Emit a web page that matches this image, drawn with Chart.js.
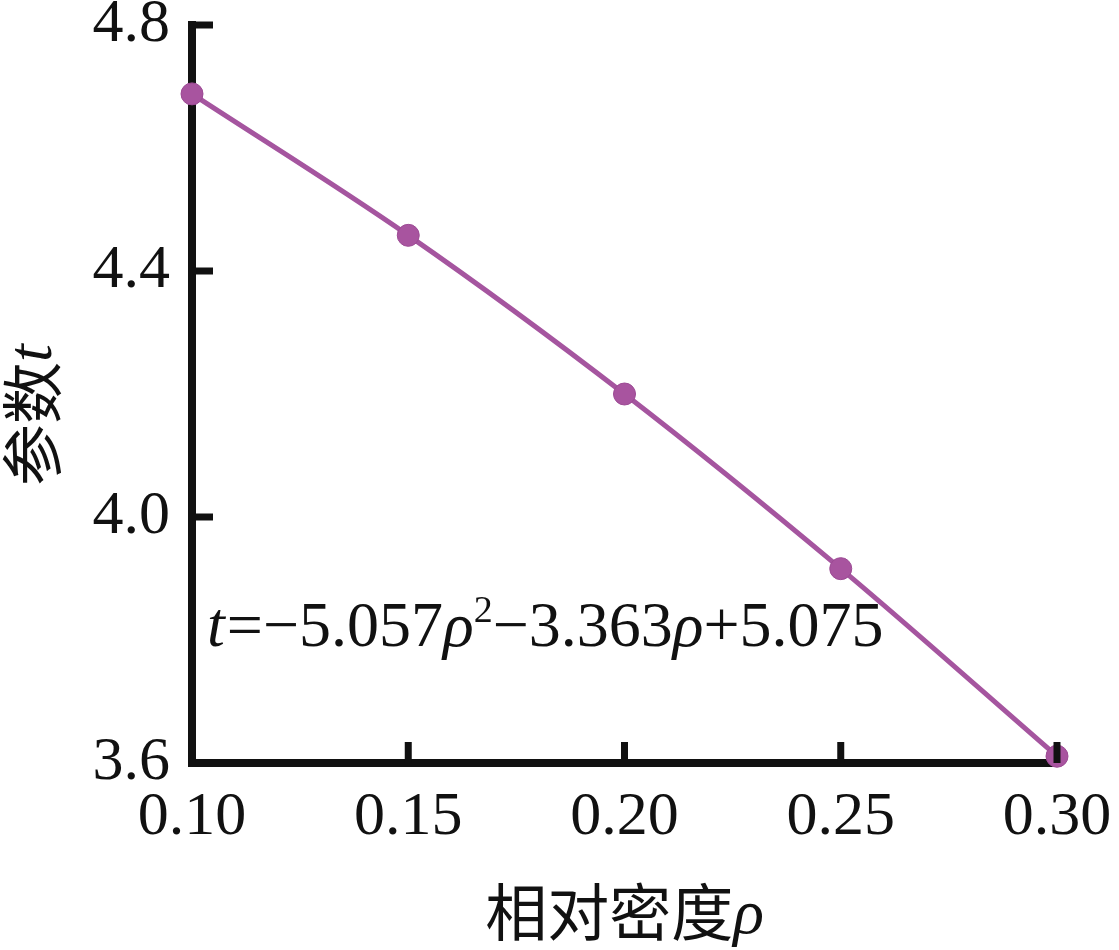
<!DOCTYPE html>
<html>
<head>
<meta charset="utf-8">
<script src="https://cdn.jsdelivr.net/npm/chart.js@4"></script>
<style>
  html, body { margin: 0; padding: 0; background: #fff; }
  #wrap { width: 1119px; height: 950px; }
</style>
</head>
<body>
<div id="wrap"><canvas id="chart" width="1119" height="950"></canvas></div>
<script>
// Data
const density = [0.10, 0.15, 0.20, 0.25, 0.30];
const paramT = [4.688, 4.458, 4.200, 3.916, 3.611];
const xTicks = [0.10, 0.15, 0.20, 0.25, 0.30];
const yTicks = [3.6, 4.0, 4.4, 4.8];

const SERIF = '"Liberation Serif", "Times New Roman", serif';
const CJK = '"Noto Sans CJK SC", "Liberation Serif", serif';
const LINE_COLOR = '#a5559f';

// Draw a run of text pieces with different fonts one after another
function drawRuns(ctx, runs, x, y) {
    let cx = x;
    runs.forEach(r => {
        ctx.font = r.font;
        ctx.fillText(r.text, cx, y + (r.dy || 0));
        cx += ctx.measureText(r.text).width + (r.gap || 0);
    });
    return cx - x;
}

function runsWidth(ctx, runs) {
    let w = 0;
    runs.forEach(r => {
        ctx.font = r.font;
        w += ctx.measureText(r.text).width + (r.gap || 0);
    });
    return w;
}

// keep the plot box where the figure has it
function noScalePadding(s) {
    s.paddingTop = 0;
    s.paddingBottom = 0;
    s.paddingLeft = 0;
    s.paddingRight = 0;
}

// Inner tick marks, axis titles and the fit equation
const decorPlugin = {
    id: 'decor',
    afterDraw(chart) {
        const ctx = chart.ctx;
        const xs = chart.scales.x, ys = chart.scales.y;
        const area = chart.chartArea;
        ctx.save();
        ctx.strokeStyle = '#111';
        ctx.lineWidth = 7;
        ctx.lineCap = 'butt';
        yTicks.forEach(v => {
            const py = ys.getPixelForValue(v);
            ctx.beginPath();
            ctx.moveTo(area.left, py);
            ctx.lineTo(area.left + 21, py);
            ctx.stroke();
        });
        xTicks.forEach(v => {
            const px = xs.getPixelForValue(v);
            ctx.beginPath();
            ctx.moveTo(px, area.bottom);
            ctx.lineTo(px, area.bottom - 21);
            ctx.stroke();
        });

        ctx.fillStyle = '#111';
        ctx.textBaseline = 'middle';
        ctx.textAlign = 'left';

        // x title
        const xRuns = [
            { text: '相对密度', font: '62px ' + CJK },
            { text: 'ρ', font: 'italic 64px ' + SERIF, dy: 4 }
        ];
        const xw = runsWidth(ctx, xRuns);
        drawRuns(ctx, xRuns, (area.left + area.right) / 2 - xw / 2, 912);

        // y title (rotated)
        const yRuns = [
            { text: '参数', font: '62px ' + CJK },
            { text: 't', font: 'italic 64px ' + SERIF, dy: 2 }
        ];
        const yw = runsWidth(ctx, yRuns);
        ctx.save();
        ctx.translate(32, 415);
        ctx.rotate(-Math.PI / 2);
        drawRuns(ctx, yRuns, -yw / 2, 0);
        ctx.restore();

        // fit equation
        ctx.textBaseline = 'alphabetic';
        const f = '64px ' + SERIF, fi = 'italic 64px ' + SERIF;
        drawRuns(ctx, [
            { text: 't', font: fi, gap: 2 },
            { text: '=', font: f },
            { text: '\u2212', font: f },
            { text: '5.057', font: f },
            { text: 'ρ', font: fi },
            { text: '2', font: '38px ' + SERIF, dy: -24 },
            { text: '\u2212', font: f },
            { text: '3.363', font: f },
            { text: 'ρ', font: fi },
            { text: '+', font: f },
            { text: '5.075', font: f }
        ], area.left + 15, ys.getPixelForValue(3.79));
        ctx.restore();
    }
};

new Chart(document.getElementById('chart').getContext('2d'), {
    type: 'line',
    data: {
        datasets: [{
            data: density.map((x, i) => ({ x: x, y: paramT[i] })),
            borderColor: LINE_COLOR,
            borderWidth: 5,
            backgroundColor: '#a8549f',
            pointBackgroundColor: '#a8549f',
            pointBorderColor: '#9c4a94',
            pointBorderWidth: 1,
            pointRadius: 11,
            cubicInterpolationMode: 'monotone',
            clip: false
        }]
    },
    plugins: [decorPlugin],
    options: {
        responsive: false,
        animation: false,
        devicePixelRatio: 1,
        layout: {
            autoPadding: false,
            padding: { left: 0, right: 62, top: 25, bottom: 0 }
        },
        plugins: {
            legend: { display: false },
            tooltip: { enabled: false }
        },
        scales: {
            x: {
                type: 'linear',
                min: 0.10,
                max: 0.30,
                afterFit: s => { s.height = 187; noScalePadding(s); },
                afterBuildTicks: s => { s.ticks = xTicks.map(v => ({ value: v })); },
                grid: { display: false, drawTicks: false },
                border: { display: true, color: '#111', width: 8 },
                ticks: {
                    color: '#111',
                    padding: 24,
                    maxRotation: 0,
                    autoSkip: false,
                    font: { family: SERIF, size: 62, lineHeight: 1 },
                    callback: v => v.toFixed(2)
                }
            },
            y: {
                type: 'linear',
                min: 3.6,
                max: 4.8,
                afterFit: s => { s.width = 192; noScalePadding(s); },
                afterBuildTicks: s => { s.ticks = yTicks.map(v => ({ value: v })); },
                grid: { display: false, drawTicks: false },
                border: { display: true, color: '#111', width: 8 },
                ticks: {
                    color: '#111',
                    padding: 22,
                    autoSkip: false,
                    font: { family: SERIF, size: 62, lineHeight: 1 },
                    callback: v => v.toFixed(1)
                }
            }
        }
    }
});
</script>
</body>
</html>
